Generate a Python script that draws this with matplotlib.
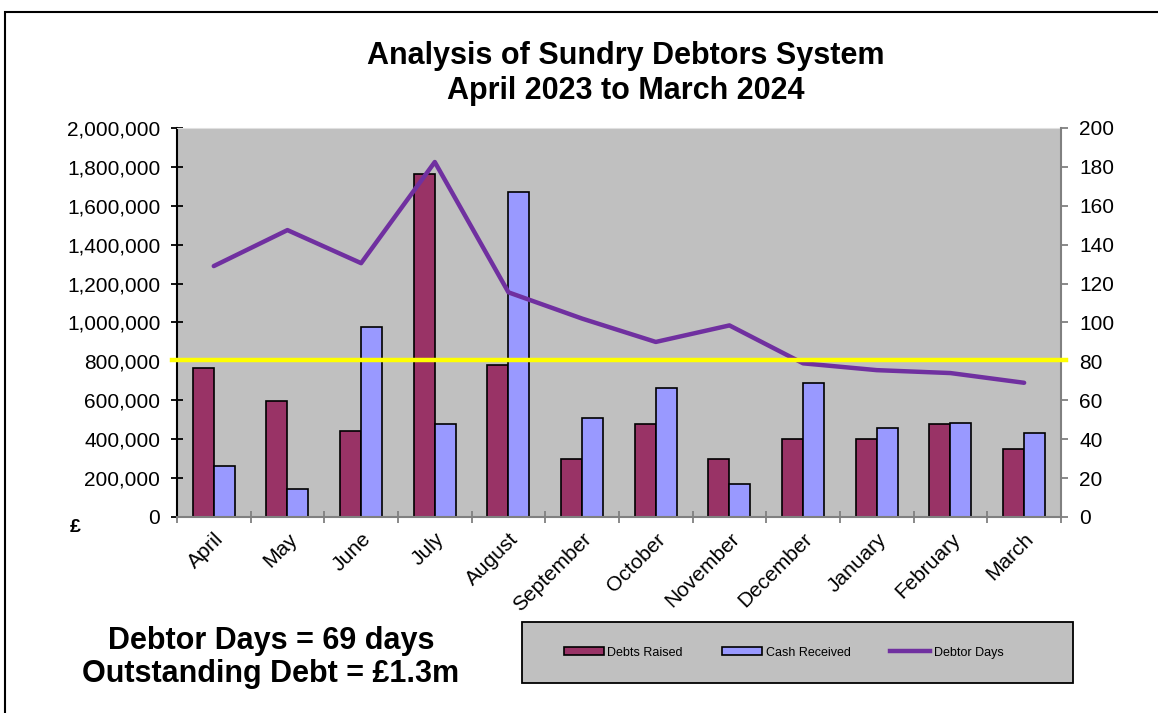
import numpy as np
import matplotlib.pyplot as plt
from matplotlib.patches import Rectangle, Patch
from matplotlib.lines import Line2D
from matplotlib.ticker import FuncFormatter

plt.rcParams['font.family'] = ['Liberation Sans', 'DejaVu Sans']

months = ["April", "May", "June", "July", "August", "September", "October",
          "November", "December", "January", "February", "March"]
debts_raised = [766000, 596000, 442000, 1763000, 781000, 298000, 478000,
                298000, 401000, 401000, 478000, 350000]
cash_received = [262000, 144000, 977000, 478000, 1671000, 509000, 663000,
                 170000, 689000, 458000, 483000, 432000]
debtor_days = [129, 147.5, 130.5, 182.5, 115.5, 102, 90, 98.5, 79, 75.5, 74, 69]
target_days = 80.5

red = "#993366"
blue = "#9999FF"
purple = "#7030A0"
grey_bg = "#C0C0C0"

fig = plt.figure(figsize=(11.58, 7.13), dpi=100)
ax = fig.add_axes([0.1528, 0.2749, 0.7634, 0.5456])
ax.set_facecolor(grey_bg)

x = np.arange(len(months))
w = 0.285
ax.bar(x - w / 2, debts_raised, w, color=red, edgecolor="black", linewidth=1.2, zorder=2)
ax.bar(x + w / 2, cash_received, w, color=blue, edgecolor="black", linewidth=1.2, zorder=2)
ax.set_xlim(-0.5, len(months) - 0.5)
ax.set_ylim(0, 2000000)
ax.set_yticks(np.arange(0, 2000001, 200000))
ax.yaxis.set_major_formatter(FuncFormatter(lambda v, p: f"{int(v):,}"))
ax.tick_params(axis="y", labelsize=15, direction="inout", length=8, width=1.3,
               color="black", pad=8)

ax.set_xticks(x)
ax.set_xticklabels(months, rotation=45, ha="right", rotation_mode="anchor", fontsize=15)
ax.set_xticks(np.arange(-0.5, len(months)), minor=True)
ax.tick_params(axis="x", which="major", length=0, pad=9)
ax.tick_params(axis="x", which="minor", direction="inout", length=8, width=1.3, color="#808080")

ax.spines["top"].set_color("#E0E0E0")
ax.spines["bottom"].set_color("#808080")
ax.spines["bottom"].set_linewidth(1.5)
ax.spines["left"].set_linewidth(1.5)
ax.spines["right"].set_visible(False)

ax2 = ax.twinx()
ax2.plot(x, debtor_days, color=purple, linewidth=3.2, solid_capstyle="round", zorder=3)
ax2.set_ylim(0, 200)
ax2.set_yticks(np.arange(0, 201, 20))
ax2.tick_params(axis="y", labelsize=15, direction="out", length=5, width=1.3,
                color="#808080", pad=8)
ax2.spines["right"].set_color("#808080")
ax2.spines["right"].set_linewidth(1.5)
for s in ["top", "left", "bottom"]:
    ax2.spines[s].set_visible(False)
ax2.plot([-0.57, len(months) - 0.43], [target_days, target_days], color="#FFFF00",
         linewidth=3.2, clip_on=False, zorder=4)
ax2.set_xlim(-0.5, len(months) - 0.5)

fig.text(0.54, 0.897, "Analysis of Sundry Debtors System\nApril 2023 to March 2024",
         ha="center", va="center", fontsize=22, fontweight="bold", linespacing=1.2)
fig.text(0.065, 0.26, "£", ha="center", va="center", fontsize=14, fontweight="bold")
fig.text(0.234, 0.078, "Debtor Days = 69 days\nOutstanding Debt = £1.3m",
         ha="center", va="center", fontsize=22, fontweight="bold", linespacing=1.15)

# legend box
fig.patches.append(Rectangle((0.4508, 0.042), 0.4758, 0.0856, transform=fig.transFigure,
                             facecolor=grey_bg, edgecolor="black", linewidth=1.3, zorder=0))
handles = [Patch(facecolor=red, edgecolor="black", linewidth=1.2),
           Patch(facecolor=blue, edgecolor="black", linewidth=1.2),
           Line2D([], [], color=purple, linewidth=3.2)]
fig.legend(handles, ["Debts Raised", "Cash Received", "Debtor Days"], loc="center",
           bbox_to_anchor=(0.4508 + 0.4758 / 2 - 0.012, 0.042 + 0.0856 / 2), ncol=3,
           frameon=False, fontsize=9, handlelength=3.2, handleheight=0.55,
           handletextpad=0.3, columnspacing=3.15)

# outer chart border
fig.patches.append(Rectangle((0.0045, -0.05), 1.1, 1.05 - 0.0168, transform=fig.transFigure,
                             facecolor="none", edgecolor="black", linewidth=1.5))

fig.savefig("out.png", dpi=100)
